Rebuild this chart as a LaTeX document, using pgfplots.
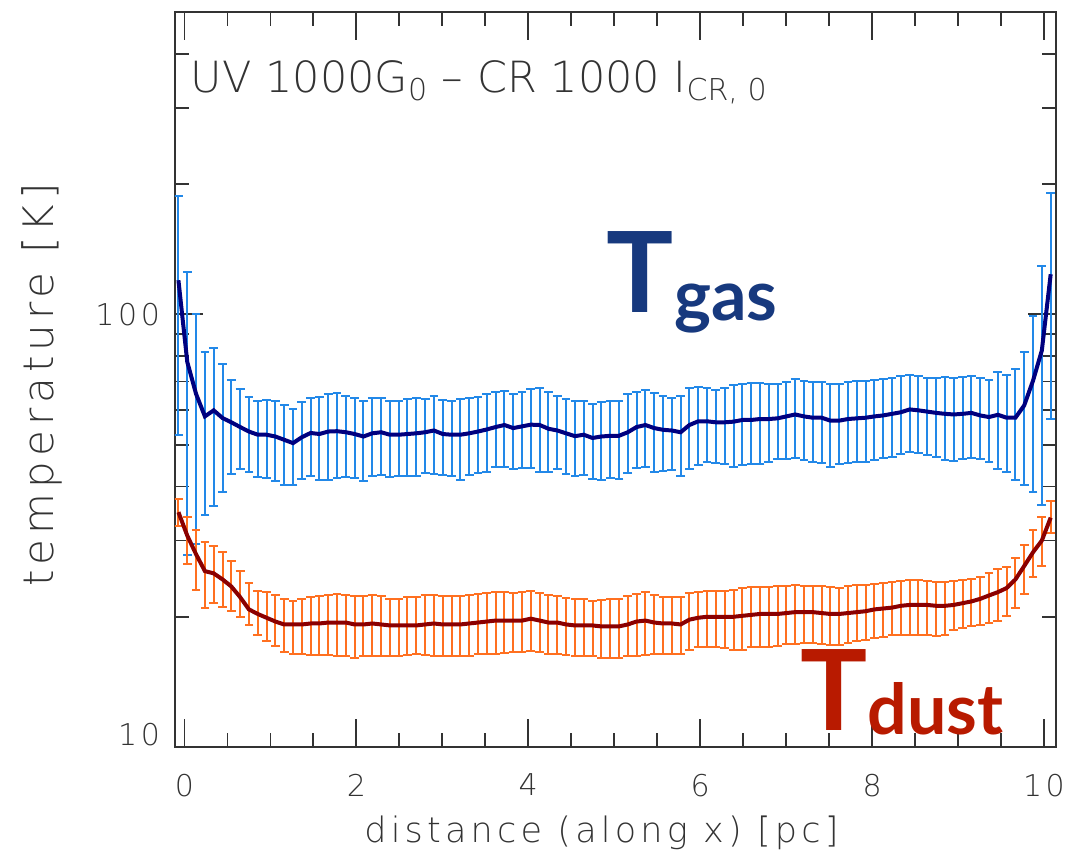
\documentclass[border=0pt]{standalone}
\usepackage{pgfplots}
\pgfplotsset{compat=1.18}
\usepackage{pgfplotstable}
\usepackage{fontspec}
\setmainfont{DejaVu Sans}[UprightFont=* ExtraLight, LetterSpace=12]
\newfontfamily\annfont{DejaVu Sans}[UprightFont=* ExtraLight]
\newfontfamily\gill{Lato}
\definecolor{gasline}{HTML}{00007F}
\definecolor{gasbar}{HTML}{2288E8}
\definecolor{dustline}{HTML}{8B0000}
\definecolor{dustbar}{HTML}{FF7020}
\definecolor{tgas}{HTML}{17397E}
\definecolor{tdust}{HTML}{B81A00}
\definecolor{txt}{HTML}{333333}

\pgfplotstableread{
x g gh gl
-0.070 119.9 187.9 52.7
0.033 77.6 125.1 27.8
0.135 65.5 100.0 29.5
0.238 58.1 81.7 34.4
0.340 60.0 83.4 36.0
0.443 57.6 76.6 38.9
0.545 56.3 70.7 42.8
0.648 54.9 67.3 43.9
0.750 53.6 64.4 43.2
0.853 52.7 63.2 42.0
0.955 52.7 63.4 41.8
1.058 52.2 63.0 41.1
1.160 51.3 61.7 40.4
1.263 50.4 60.3 40.4
1.365 52.0 62.7 41.6
1.468 53.2 64.2 42.2
1.570 52.9 64.4 41.5
1.673 53.6 65.5 41.5
1.775 53.7 65.8 41.8
1.878 53.4 64.6 42.0
1.980 52.9 64.0 41.8
2.083 52.2 63.2 41.1
2.185 53.1 64.2 42.3
2.288 53.4 64.0 42.6
2.390 52.7 63.2 42.0
2.493 52.7 63.2 42.2
2.595 52.9 63.8 42.3
2.698 53.1 64.0 42.4
2.800 53.4 63.6 43.0
2.903 53.9 64.6 42.7
3.005 52.9 63.4 42.6
3.108 52.7 63.0 42.3
3.210 52.7 63.8 41.5
3.313 53.1 64.0 42.6
3.415 53.6 64.4 42.9
3.518 54.2 65.5 43.2
3.620 54.9 66.1 44.3
3.723 55.5 66.5 44.5
3.825 54.6 65.5 43.8
3.928 55.1 66.1 44.2
4.030 55.6 67.3 44.1
4.133 55.5 67.7 43.3
4.235 54.4 66.1 43.2
4.338 53.9 64.6 43.9
4.440 53.1 63.8 42.7
4.543 52.3 62.9 42.3
4.645 52.7 62.9 42.6
4.748 51.8 62.1 41.6
4.850 52.2 62.7 41.5
4.953 52.4 62.9 41.8
5.055 52.4 63.2 41.6
5.158 53.4 65.5 42.9
5.260 54.9 66.3 44.1
5.363 55.5 66.7 44.5
5.465 54.6 65.8 43.2
5.568 54.1 64.6 43.4
5.670 53.9 64.0 43.7
5.773 53.4 64.6 42.2
5.875 55.5 67.5 43.9
5.978 56.6 67.9 44.9
6.080 56.6 67.5 45.5
6.183 56.3 67.0 45.3
6.285 56.3 67.7 45.1
6.388 56.5 68.8 44.5
6.490 57.0 69.1 44.9
6.593 57.0 69.3 45.0
6.695 57.3 69.3 45.1
6.798 57.3 68.9 45.7
6.900 57.5 68.9 46.2
7.003 58.1 69.7 46.3
7.105 58.7 71.0 46.5
7.208 58.1 70.3 46.1
7.310 57.7 69.7 45.5
7.413 57.7 69.7 45.3
7.515 56.8 69.1 44.5
7.618 56.8 69.1 45.0
7.720 57.3 69.7 45.3
7.823 57.5 70.1 45.5
7.925 57.7 70.1 45.7
8.028 58.1 70.6 46.1
8.130 58.4 71.0 46.5
8.233 58.9 71.4 46.8
8.335 59.4 71.9 47.6
8.438 60.3 72.5 48.0
8.540 60.0 71.9 47.9
8.643 59.6 71.2 47.2
8.745 59.2 71.2 46.9
8.848 58.9 71.6 46.1
8.950 58.7 71.4 45.9
9.053 58.9 71.6 46.3
9.155 59.2 71.9 46.6
9.258 58.4 71.2 46.3
9.360 57.9 70.6 45.5
9.463 58.6 73.5 43.9
9.565 57.7 72.5 43.2
9.668 57.7 74.6 41.5
9.770 61.6 82.0 40.4
9.873 70.3 98.9 38.9
9.975 82.5 129.2 36.3
10.078 123.8 191.3 57.4
}\gasdata

\pgfplotstableread{
x d dh dl
-0.070 34.9 37.4 32.5
0.033 30.8 34.1 26.5
0.135 27.9 31.8 23.1
0.238 25.5 29.7 21.0
0.340 25.2 29.1 21.5
0.443 24.4 28.2 21.1
0.545 23.5 26.9 20.6
0.648 22.2 25.5 20.0
0.750 20.8 24.0 19.1
0.853 20.3 23.0 18.2
0.955 19.9 22.8 17.6
1.058 19.5 22.4 17.1
1.160 19.2 22.0 16.6
1.263 19.2 21.7 16.4
1.365 19.2 22.0 16.4
1.468 19.3 22.2 16.3
1.570 19.3 22.3 16.3
1.673 19.4 22.4 16.3
1.775 19.4 22.6 16.2
1.878 19.4 22.5 16.2
1.980 19.2 22.3 16.1
2.083 19.2 22.3 16.2
2.185 19.3 22.4 16.2
2.288 19.2 22.3 16.2
2.390 19.1 22.0 16.2
2.493 19.1 22.0 16.2
2.595 19.1 22.2 16.3
2.698 19.1 22.2 16.4
2.800 19.2 22.4 16.3
2.903 19.3 22.5 16.2
3.005 19.2 22.3 16.2
3.108 19.2 22.3 16.2
3.210 19.2 22.3 16.2
3.313 19.3 22.4 16.2
3.415 19.4 22.6 16.4
3.518 19.5 22.7 16.4
3.620 19.6 22.8 16.4
3.723 19.6 22.8 16.5
3.825 19.6 22.7 16.6
3.928 19.6 22.8 16.6
4.030 19.8 22.9 16.7
4.133 19.6 22.7 16.6
4.235 19.4 22.4 16.4
4.338 19.4 22.3 16.4
4.440 19.2 22.1 16.3
4.543 19.1 22.0 16.2
4.645 19.1 22.0 16.2
4.748 19.1 21.8 16.2
4.850 19.0 21.9 16.1
4.953 19.0 22.0 16.1
5.055 19.0 22.0 16.1
5.158 19.2 22.3 16.2
5.260 19.5 22.6 16.2
5.363 19.6 22.8 16.3
5.465 19.4 22.4 16.4
5.568 19.3 22.2 16.4
5.670 19.3 22.2 16.4
5.773 19.2 22.2 16.4
5.875 19.7 22.7 16.8
5.978 19.9 22.8 17.0
6.080 20.0 22.9 17.0
6.183 20.0 22.9 17.0
6.285 20.0 23.0 16.9
6.388 20.0 23.1 16.8
6.490 20.1 23.3 16.8
6.593 20.2 23.4 17.0
6.695 20.3 23.4 17.0
6.798 20.3 23.4 17.0
6.900 20.3 23.5 17.1
7.003 20.4 23.6 17.3
7.105 20.5 23.7 17.3
7.208 20.5 23.6 17.4
7.310 20.5 23.6 17.4
7.413 20.4 23.5 17.3
7.515 20.3 23.4 17.2
7.618 20.3 23.3 17.2
7.720 20.4 23.5 17.4
7.823 20.5 23.7 17.6
7.925 20.6 23.7 17.7
8.028 20.8 23.8 17.9
8.130 20.9 23.9 18.0
8.233 21.0 24.1 18.2
8.335 21.2 24.2 18.2
8.438 21.3 24.3 18.2
8.540 21.3 24.3 18.2
8.643 21.3 24.2 18.2
8.745 21.2 24.1 18.1
8.848 21.2 24.1 18.2
8.950 21.3 24.2 18.6
9.053 21.5 24.3 18.8
9.155 21.7 24.4 19.0
9.258 22.0 24.7 19.1
9.360 22.4 25.2 19.3
9.463 22.8 25.8 19.6
9.565 23.3 26.1 20.1
9.668 24.4 27.3 21.0
9.770 26.2 29.3 22.6
9.873 28.2 31.8 24.7
9.975 30.0 34.1 26.2
10.078 33.9 37.1 31.2
}\dustdata

\begin{document}
\begin{tikzpicture}
\begin{axis}[
  scale only axis,
  width=440.5pt, height=367.5pt,
  xmin=-0.11, xmax=10.14,
  ymode=log, ymin=10, ymax=500,
  xtick={0,2,4,6,8,10},
  minor x tick num=3,
  ytick={100},
  extra y ticks={10},
  extra y tick style={yticklabel style={yshift=6pt}},
  minor ytick={20,30,40,50,60,70,80,90,200,300,400,500},
  log ticks with fixed point,
  major tick length=14pt,
  minor tick length=7pt,
  tick align=inside,
  every tick/.style={black!80, line width=0.9pt},
  axis line style={black!80, line width=1pt},
  tick label style={font=\fontsize{15}{18}\selectfont, text=txt},
  xticklabel style={yshift=-10pt},
  yticklabel style={xshift=-4pt},
  /pgf/number format/assume math mode=true,
  xlabel={distance (along x) [pc]},
  ylabel={temperature [K]},
  every axis x label/.style={at={(axis description cs:0.484,-0.1306)}, anchor=base, font=\fontsize{17.5}{20}\selectfont, text=txt},
  every axis y label/.style={at={(axis description cs:-0.151,0.4925)}, anchor=center, rotate=90, font=\fontsize{21}{24}\selectfont, text=txt},
  clip mode=individual,
]
\addplot[gasbar, line width=1pt, mark=none, forget plot,
  error bars/.cd, y dir=both, y explicit,
  error bar style={draw=gasbar, line width=1pt},
  error mark options={draw=gasbar, line width=1pt, mark size=2.2pt, rotate=90}]
  table[x=x, y=g, y error plus expr=\thisrow{gh}-\thisrow{g}, y error minus expr=\thisrow{g}-\thisrow{gl}] {\gasdata};
\addplot[dustbar, line width=1pt, mark=none, forget plot,
  error bars/.cd, y dir=both, y explicit,
  error bar style={draw=dustbar, line width=1pt},
  error mark options={draw=dustbar, line width=1pt, mark size=2.2pt, rotate=90}]
  table[x=x, y=d, y error plus expr=\thisrow{dh}-\thisrow{d}, y error minus expr=\thisrow{d}-\thisrow{dl}] {\dustdata};
\addplot[gasline, line width=2pt, mark=none] table[x=x, y=g] {\gasdata};
\addplot[dustline, line width=2pt, mark=none] table[x=x, y=d] {\dustdata};

\node[anchor=base west, inner sep=0pt, text=txt, font=\annfont\fontsize{21.5}{25}\selectfont]
  at (axis cs:0.07,325) {UV 1000G\textsubscript{0} – CR 1000 I\textsubscript{CR, 0}};
\node[anchor=base west, inner sep=0pt, text=tgas, font=\gill\bfseries]
  at (axis cs:4.91,101) {\fontsize{56}{60}\selectfont T\raisebox{-4pt}{\fontsize{35}{38}\selectfont gas}};
\node[anchor=base west, inner sep=0pt, text=tdust, font=\gill\bfseries]
  at (axis cs:7.16,10.9) {\fontsize{56}{60}\selectfont T\raisebox{-2pt}{\fontsize{35}{38}\selectfont dust}};
\end{axis}
\pgfresetboundingbox
\path[use as bounding box] (-87.5pt,-57.5pt) rectangle (455.5pt,373.5pt);
\end{tikzpicture}
\end{document}
